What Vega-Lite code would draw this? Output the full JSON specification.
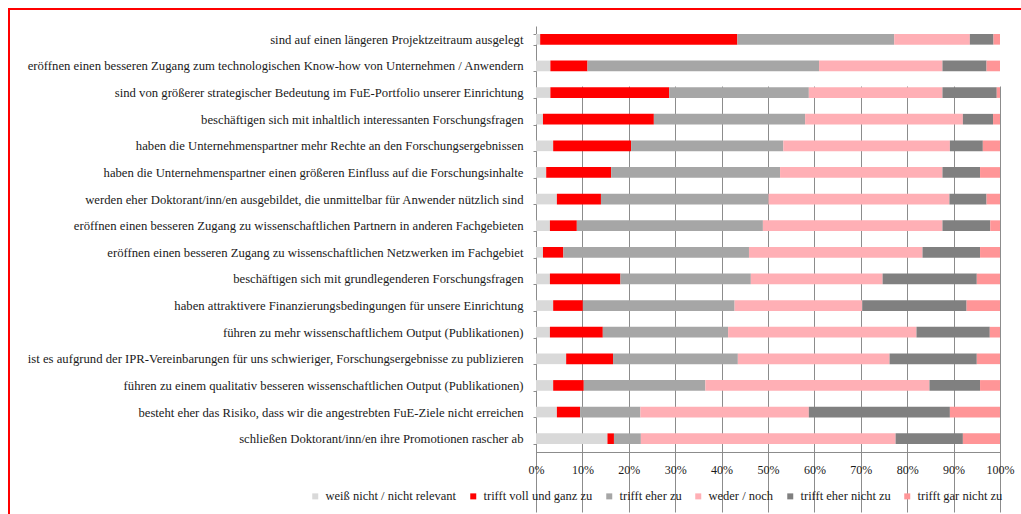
{
  "$schema": "https://vega.github.io/schema/vega-lite/v6.json",
  "width": 1030,
  "height": 520,
  "autosize": {"type": "none"},
  "padding": {"left": 9, "top": 9, "right": 0, "bottom": 0},
  "background": "white",
  "config": {
    "view": {"stroke": "#ff0000", "strokeWidth": 2, "fill": "white"},
    "font": "Liberation Serif"
  },
  "datasets": {
    "fragen": [
      {"frage": "sind  auf einen längeren Projektzeitraum ausgelegt", "weiß nicht / nicht relevant": 0.9, "trifft voll und ganz zu": 42.5, "trifft eher zu": 33.8, "weder / noch": 16.3, "trifft eher nicht zu": 5.1, "trifft gar nicht zu": 1.4},
      {"frage": "eröffnen einen besseren Zugang zum technologischen Know-how von Unternehmen / Anwendern", "weiß nicht / nicht relevant": 3.1, "trifft voll und ganz zu": 8.0, "trifft eher zu": 49.9, "weder / noch": 26.6, "trifft eher nicht zu": 9.5, "trifft gar nicht zu": 2.9},
      {"frage": "sind von größerer strategischer Bedeutung im FuE-Portfolio unserer Einrichtung", "weiß nicht / nicht relevant": 3.1, "trifft voll und ganz zu": 25.6, "trifft eher zu": 30.1, "weder / noch": 28.8, "trifft eher nicht zu": 11.7, "trifft gar nicht zu": 0.7},
      {"frage": "beschäftigen sich mit inhaltlich interessanten Forschungsfragen", "weiß nicht / nicht relevant": 1.5, "trifft voll und ganz zu": 23.9, "trifft eher zu": 32.6, "weder / noch": 34.0, "trifft eher nicht zu": 6.5, "trifft gar nicht zu": 1.5},
      {"frage": "haben die Unternehmenspartner mehr Rechte an den Forschungsergebnissen", "weiß nicht / nicht relevant": 3.7, "trifft voll und ganz zu": 16.8, "trifft eher zu": 32.8, "weder / noch": 35.9, "trifft eher nicht zu": 7.1, "trifft gar nicht zu": 3.7},
      {"frage": "haben die Unternehmenspartner einen größeren Einfluss auf die Forschungsinhalte", "weiß nicht / nicht relevant": 2.2, "trifft voll und ganz zu": 14.0, "trifft eher zu": 36.4, "weder / noch": 35.0, "trifft eher nicht zu": 8.1, "trifft gar nicht zu": 4.3},
      {"frage": "werden eher Doktorant/inn/en ausgebildet, die unmittelbar für Anwender nützlich sind", "weiß nicht / nicht relevant": 4.5, "trifft voll und ganz zu": 9.5, "trifft eher zu": 36.1, "weder / noch": 39.0, "trifft eher nicht zu": 8.0, "trifft gar nicht zu": 2.9},
      {"frage": "eröffnen einen besseren Zugang zu wissenschaftlichen Partnern in anderen Fachgebieten", "weiß nicht / nicht relevant": 3.0, "trifft voll und ganz zu": 5.8, "trifft eher zu": 40.1, "weder / noch": 38.7, "trifft eher nicht zu": 10.3, "trifft gar nicht zu": 2.1},
      {"frage": "eröffnen einen besseren Zugang zu wissenschaftlichen Netzwerken im Fachgebiet", "weiß nicht / nicht relevant": 1.5, "trifft voll und ganz zu": 4.4, "trifft eher zu": 40.0, "weder / noch": 37.4, "trifft eher nicht zu": 12.4, "trifft gar nicht zu": 4.3},
      {"frage": "beschäftigen sich mit grundlegenderen Forschungsfragen", "weiß nicht / nicht relevant": 3.0, "trifft voll und ganz zu": 15.2, "trifft eher zu": 28.1, "weder / noch": 28.4, "trifft eher nicht zu": 20.3, "trifft gar nicht zu": 5.0},
      {"frage": "haben attraktivere Finanzierungsbedingungen für unsere Einrichtung", "weiß nicht / nicht relevant": 3.7, "trifft voll und ganz zu": 6.4, "trifft eher zu": 32.7, "weder / noch": 27.5, "trifft eher nicht zu": 22.5, "trifft gar nicht zu": 7.2},
      {"frage": "führen zu mehr wissenschaftlichem Output (Publikationen)", "weiß nicht / nicht relevant": 3.0, "trifft voll und ganz zu": 11.4, "trifft eher zu": 27.0, "weder / noch": 40.6, "trifft eher nicht zu": 15.8, "trifft gar nicht zu": 2.2},
      {"frage": "ist es aufgrund der IPR-Vereinbarungen für uns schwieriger, Forschungsergebnisse zu publizieren", "weiß nicht / nicht relevant": 6.5, "trifft voll und ganz zu": 10.1, "trifft eher zu": 26.9, "weder / noch": 32.7, "trifft eher nicht zu": 18.8, "trifft gar nicht zu": 5.0},
      {"frage": "führen zu einem qualitativ besseren wissenschaftlichen Output (Publikationen)", "weiß nicht / nicht relevant": 3.7, "trifft voll und ganz zu": 6.6, "trifft eher zu": 26.2, "weder / noch": 48.3, "trifft eher nicht zu": 10.9, "trifft gar nicht zu": 4.3},
      {"frage": "besteht eher das Risiko, dass wir die angestrebten FuE-Ziele nicht erreichen", "weiß nicht / nicht relevant": 4.5, "trifft voll und ganz zu": 5.0, "trifft eher zu": 13.0, "weder / noch": 36.3, "trifft eher nicht zu": 30.4, "trifft gar nicht zu": 10.8},
      {"frage": "schließen Doktorant/inn/en ihre Promotionen rascher ab", "weiß nicht / nicht relevant": 15.4, "trifft voll und ganz zu": 1.4, "trifft eher zu": 5.8, "weder / noch": 54.9, "trifft eher nicht zu": 14.5, "trifft gar nicht zu": 8.0}
    ],
    "reihenfolge": [
      {"antwort": "weiß nicht / nicht relevant", "o": 0},
      {"antwort": "trifft voll und ganz zu", "o": 1},
      {"antwort": "trifft eher zu", "o": 2},
      {"antwort": "weder / noch", "o": 3},
      {"antwort": "trifft eher nicht zu", "o": 4},
      {"antwort": "trifft gar nicht zu", "o": 5}
    ]
  },
  "data": {"name": "fragen"},
  "transform": [
    {"fold": ["weiß nicht / nicht relevant", "trifft voll und ganz zu", "trifft eher zu", "weder / noch", "trifft eher nicht zu", "trifft gar nicht zu"], "as": ["antwort", "wert"]},
    {"lookup": "antwort", "from": {"data": {"name": "reihenfolge"}, "key": "antwort", "fields": ["o"]}}
  ],
  "mark": {"type": "bar"},
  "encoding": {
    "y": {
      "field": "frage", "type": "nominal", "sort": null,
      "scale": {"range": [17, 443], "paddingInner": 0.6, "paddingOuter": 0.3},
      "axis": {"title": null, "orient": "left", "offset": -527, "labelLimit": 700, "labelPadding": 10, "labelFontSize": 12.7, "labelColor": "#1a1a1a", "labelFont": "Liberation Serif", "tickBand": "extent", "tickSize": 3, "tickColor": "#8c8c8c", "domainColor": "#8c8c8c", "grid": false}
    },
    "x": {
      "field": "wert", "type": "quantitative", "stack": "normalize",
      "scale": {"domain": [0, 1], "range": [527, 991], "nice": false},
      "axis": {"title": null, "orient": "bottom", "offset": -77, "values": [0, 0.1, 0.2, 0.3, 0.4, 0.5, 0.6, 0.7, 0.8, 0.9, 1], "format": ".0%", "grid": true, "gridColor": "#8c8c8c", "gridWidth": 1, "gridOpacity": 1, "domainColor": "#8c8c8c", "tickColor": "#8c8c8c", "tickSize": 4, "labelPadding": 8, "labelFontSize": 12, "labelColor": "#1a1a1a", "labelFont": "Liberation Serif", "labelFlush": false}
    },
    "color": {
      "field": "antwort", "type": "nominal",
      "scale": {
        "domain": ["weiß nicht / nicht relevant", "trifft voll und ganz zu", "trifft eher zu", "weder / noch", "trifft eher nicht zu", "trifft gar nicht zu"],
        "range": ["#d9d9d9", "#ff0000", "#a6a6a6", "#ffafb5", "#808080", "#ff9597"]
      },
      "legend": {"title": null, "orient": "none", "legendX": 300, "legendY": 481, "direction": "horizontal", "symbolType": "square", "symbolSize": 36, "symbolStrokeWidth": 0, "labelFont": "Liberation Serif", "labelFontSize": 12.5, "labelColor": "#1a1a1a", "labelOffset": 4, "columnPadding": 10, "labelLimit": 300}
    },
    "order": {"field": "o", "type": "quantitative"}
  }
}
